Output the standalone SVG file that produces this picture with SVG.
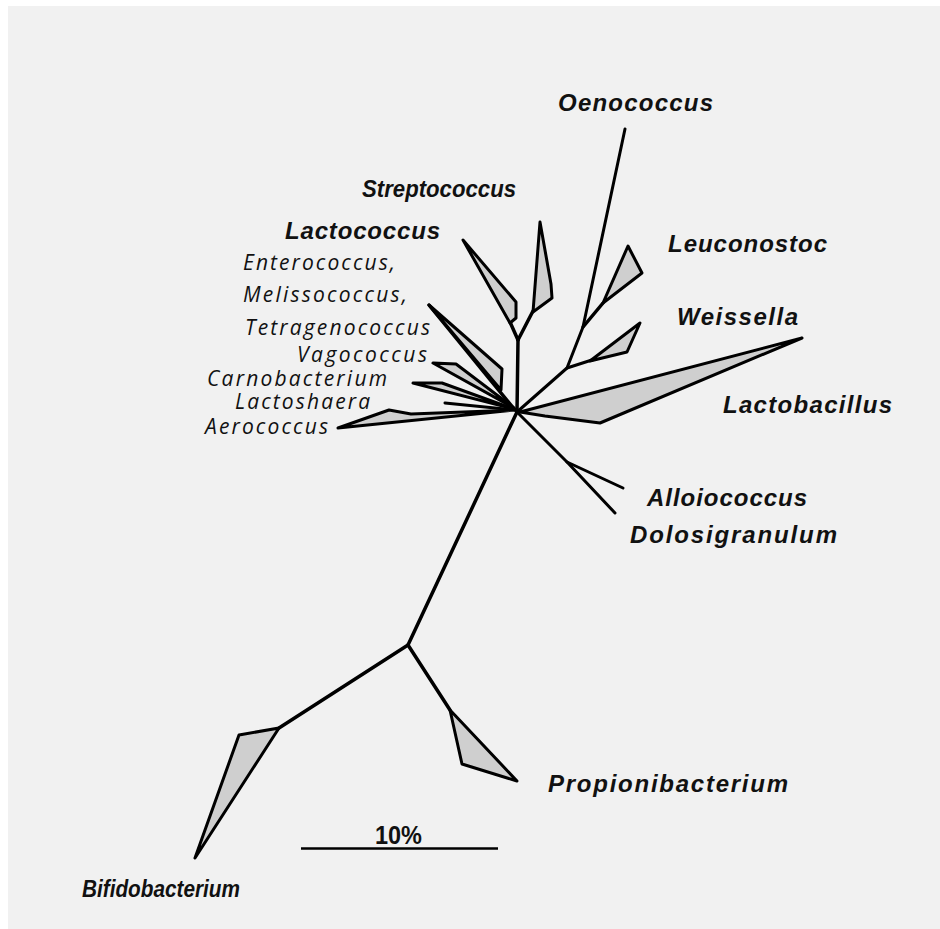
<svg xmlns="http://www.w3.org/2000/svg" width="940" height="929" viewBox="0 0 940 929">
<style>
.ln{fill:none;stroke:#000;stroke-width:3.5;stroke-linecap:round;stroke-linejoin:round}
.cl{fill:#cfcfcf;stroke:#000;stroke-width:3;stroke-linejoin:round}
.b{font-family:"Liberation Sans",Arial,sans-serif;font-weight:bold;font-style:italic;font-size:24px;fill:#111}
.s{font-family:"Open Sans","Liberation Sans",sans-serif;font-style:italic;font-size:21px;fill:#111}
.sc{font-family:"Liberation Sans",Arial,sans-serif;font-weight:bold;font-size:25px;fill:#111}
</style>
<rect x="0" y="0" width="940" height="929" fill="#ffffff"/>
<rect x="8" y="6" width="932" height="923" fill="#f1f1f1"/>
<g id="connectors">
<path class="ln" d="M517,412 L408,645"/>
<path class="ln" d="M408,645 L279,728"/>
<path class="ln" d="M408,645 L450,710"/>
<path class="ln" d="M517,412 L518,340"/>
<path class="ln" d="M518,340 L533,311"/>
<path class="ln" d="M518,340 L510,322"/>
<path class="ln" style="stroke-width:3" d="M517,412 L567,368 L583,327 L625,129"/>
<path class="ln" d="M583,327 L603,303"/>
<path class="ln" style="stroke-width:3" d="M567,368 L595,359"/>
<path class="ln" style="stroke-width:3" d="M517,412 L567,462 L623,488"/>
<path class="ln" style="stroke-width:3" d="M567,462 L615,513"/>
<path class="ln" style="stroke-width:3" d="M445,403 L515,410"/>
<path class="ln" d="M429,305 L515,410"/>
</g>
<g id="bifidobacterium">
<polygon class="cl" points="279,728 239,735 195,858"/>
<text class="b" style="font-size:23px" x="82" y="897" textLength="158" lengthAdjust="spacingAndGlyphs">Bifidobacterium</text>
</g>
<g id="propionibacterium">
<polygon class="cl" points="450,710 462,764 517,781"/>
<text class="b" x="548" y="792" textLength="240">Propionibacterium</text>
</g>
<g id="streptococcus">
<polygon class="cl" points="533,312 540,222 551,284 552,298"/>
<text class="b" style="font-size:23px" x="362" y="197" textLength="154" lengthAdjust="spacingAndGlyphs">Streptococcus</text>
</g>
<g id="lactococcus">
<polygon class="cl" points="463,240 516,302 516,318 510,323"/>
<text class="b" x="285" y="239" textLength="155">Lactococcus</text>
</g>
<g id="enterococcus">
<polygon class="cl" points="429,305 502,369 501,390"/>
<text class="s" x="243" y="270" textLength="152">Enterococcus,</text>
<text class="s" x="243" y="302" textLength="164">Melissococcus,</text>
<text class="s" x="245" y="335" textLength="185">Tetragenococcus</text>
</g>
<g id="vagococcus">
<polygon class="cl" points="433,363 456,364 514,408"/>
<text class="s" x="297" y="362" textLength="130">Vagococcus</text>
</g>
<g id="carnobacterium">
<polygon class="cl" points="413,383 442,383 514,409"/>
<text class="s" x="207" y="386" textLength="180">Carnobacterium</text>
</g>
<g id="lactoshaera">
<text class="s" x="235" y="409" textLength="135">Lactoshaera</text>
</g>
<g id="aerococcus">
<polygon class="cl" points="338,428 389,410 411,414 514,410"/>
<text class="s" x="205" y="434" textLength="123">Aerococcus</text>
</g>
<g id="oenococcus">
<text class="b" x="558" y="111" textLength="155">Oenococcus</text>
</g>
<g id="leuconostoc">
<polygon class="cl" points="603,303 628,246 642,273"/>
<text class="b" x="668" y="252" textLength="159">Leuconostoc</text>
</g>
<g id="weissella">
<polygon class="cl" points="590,361 640,323 627,352"/>
<text class="b" x="677" y="325" textLength="121">Weissella</text>
</g>
<g id="lactobacillus">
<polygon class="cl" points="520,412 802,338 600,423 545,416"/>
<text class="b" x="723" y="413" textLength="169">Lactobacillus</text>
</g>
<g id="alloiococcus">
<text class="b" x="647" y="506" textLength="160">Alloiococcus</text>
</g>
<g id="dolosigranulum">
<text class="b" x="630" y="543" textLength="207">Dolosigranulum</text>
</g>
<g id="scale">
<path d="M301,848.5 L498,848.5" stroke="#000" stroke-width="2.5" fill="none"/>
<text class="sc" x="375" y="844" textLength="47" lengthAdjust="spacingAndGlyphs">10%</text>
</g>
</svg>
